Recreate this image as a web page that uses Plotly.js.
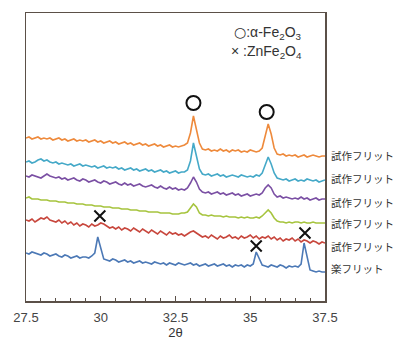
<!DOCTYPE html>
<html>
<head>
<meta charset="utf-8">
<script src="https://cdn.plot.ly/plotly-3.0.1.min.js"></script>
<style>html,body{margin:0;padding:0;background:#fff}#chart{width:393px;height:340px}</style>
</head>
<body>
<div id="chart"></div>
<script>
// 2θ grid (deg)
const twoTheta = [27.5,27.6,27.7,27.8,27.9,28.0,28.1,28.2,28.3,28.4,
 28.5,28.6,28.7,28.8,28.9,29.0,29.1,29.2,29.3,29.4,
 29.5,29.6,29.7,29.8,29.9,30.0,30.1,30.2,30.3,30.4,
 30.5,30.6,30.7,30.8,30.9,31.0,31.1,31.2,31.3,31.4,
 31.5,31.6,31.7,31.8,31.9,32.0,32.1,32.2,32.3,32.4,
 32.5,32.6,32.7,32.8,32.9,33.0,33.1,33.2,33.3,33.4,
 33.5,33.6,33.7,33.8,33.9,34.0,34.1,34.2,34.3,34.4,
 34.5,34.6,34.7,34.8,34.9,35.0,35.1,35.2,35.3,35.4,
 35.5,35.6,35.7,35.8,35.9,36.0,36.1,36.2,36.3,36.4,
 36.5,36.6,36.7,36.8,36.9,37.0,37.1,37.2,37.3,37.4,37.5];

// Intensity (a.u., stacked with offsets)
const trial1 = [163,164,162,163,164,162,163,162,163,161,
 162,163,161,162,160,161,162,160,161,160,
 161,159,160,161,159,160,158,159,160,158,
 159,157,158,159,157,158,156,157,158,156,
 157,155,156,157,155,156,154,155,156,154,
 155,154,155,156,158,168,185,171,158,152,
 151,152,150,151,150,152,150,151,149,151,
 150,151,149,150,149,151,150,149,150,153,
 165,177,167,153,147,146,147,145,146,145,
 146,144,145,146,144,145,146,145,144,145,145];
const trial2 = [139,140,138,139,141,142,140,141,139,138,
 139,137,138,137,136,137,135,136,137,135,
 136,135,134,135,133,134,135,133,134,133,
 134,132,133,131,132,133,131,132,130,131,
 132,130,131,129,130,131,129,130,128,129,
 130,128,129,129,131,140,158,145,132,127,
 126,127,125,126,127,125,126,124,125,126,
 125,124,126,125,124,125,124,126,125,128,
 136,144,137,128,123,122,121,122,120,121,
 122,120,121,120,122,121,120,121,119,120,121];
const trial3 = [125,124,126,125,124,123,125,127,125,124,
 123,124,122,123,121,122,123,121,120,122,
 121,119,120,121,119,118,120,119,117,118,
 119,117,116,118,116,117,115,116,117,115,
 114,115,116,114,113,115,113,112,114,112,
 113,111,112,111,113,118,124,119,112,109,
 108,109,107,108,109,107,108,106,107,108,
 106,107,105,106,107,105,106,107,106,108,
 113,116,113,107,104,105,103,104,103,102,
 103,102,104,102,103,101,102,103,101,102,102];
const trial4 = [103,104,102,102,102,101,101,101,100,100,
 100,99,99,99,98,98,98,97,97,97,
 96,96,96,95,95,95,94,94,94,93,
 93,93,92,92,92,91,91,91,90,90,
 90,89,89,89,89,88,88,88,88,87,
 87,87,88,88,89,93,97,94,88,86,
 86,85,86,85,85,85,84,85,84,84,
 84,83,84,83,84,83,83,84,83,85,
 88,91,88,83,80,79,79,78,79,78,
 79,79,78,79,78,78,79,78,78,78,78];
const trial5 = [81,80,82,79,81,83,82,84,81,80,
 79,81,78,80,77,79,76,78,75,77,
 76,74,77,75,76,78,77,75,73,74,
 72,74,71,73,72,70,73,71,69,72,
 70,68,71,69,67,70,68,66,69,67,
 68,66,67,65,67,69,70,68,66,64,
 65,63,66,64,62,65,63,64,66,63,
 64,62,65,63,64,66,63,65,62,64,
 63,65,62,64,61,63,60,62,61,63,
 60,62,59,61,60,58,60,59,57,59,58];
const raku = [48,47,49,48,47,46,48,47,45,46,
 47,45,44,46,45,43,44,45,43,44,
 44,43,45,48,64,52,42,41,40,42,
 41,39,40,41,39,40,38,39,40,38,
 39,38,37,39,38,37,38,36,38,37,
 36,38,37,36,37,38,36,37,35,36,
 37,35,36,37,35,36,37,35,36,34,
 36,35,36,34,36,35,37,49,42,36,
 35,34,36,35,34,36,35,33,35,34,
 35,34,37,58,44,31,30,29,30,29,29];

const seriesNames = ["試作フリット","試作フリット","試作フリット","試作フリット","試作フリット","楽フリット"];
const seriesColors = ["#ee8a3c","#45a9c8","#7b50a4","#a6c43e","#c8473d","#4c79b6"];
const seriesData = [trial1, trial2, trial3, trial4, trial5, raku];
const labelY = [146, 123, 99, 78, 55, 33];

// phase markers
const hematiteX = [33.1, 35.55];
const hematiteY = [198, 189];
const franklX = [29.97, 35.2, 36.83];
const franklY = [85, 55, 68];

const traces = seriesData.map((d, k) => ({
  x: twoTheta, y: d, type: 'scatter', mode: 'lines', name: seriesNames[k],
  line: {color: seriesColors[k], width: 1.6}, hoverinfo: 'skip'
}));
traces.push({x: hematiteX, y: hematiteY, type: 'scatter', mode: 'markers',
  marker: {symbol: 'circle-open', size: 14, color: '#111', line: {width: 2, color: '#111'}}});
traces.push({x: franklX, y: franklY, type: 'scatter', mode: 'markers',
  marker: {symbol: 'x-thin-open', size: 11, color: '#111', line: {width: 2, color: '#111'}}});

const ann = seriesNames.map((n, k) => ({
  x: 37.5, y: labelY[k], xref: 'x', yref: 'y', text: n, showarrow: false,
  xanchor: 'left', yanchor: 'middle', xshift: 4,
  font: {family: 'Noto Sans CJK JP', size: 10.5, color: '#333'}
}));
ann.push({x: 34.4, y: 268, xref: 'x', yref: 'y', text: '<span style="font-family:DejaVu Sans">○</span>:α-Fe<sub>2</sub>O<sub>3</sub>', showarrow: false,
  xanchor: 'left', yanchor: 'middle', font: {family: 'Liberation Sans', size: 14, color: '#333'}});
ann.push({x: 34.3, y: 249, xref: 'x', yref: 'y', text: '× :ZnFe<sub>2</sub>O<sub>4</sub>', showarrow: false,
  xanchor: 'left', yanchor: 'middle', font: {family: 'Liberation Sans', size: 14, color: '#333'}});

const layout = {
  width: 393, height: 340,
  margin: {l: 26, r: 68, t: 13, b: 39, pad: 0},
  paper_bgcolor: '#fff', plot_bgcolor: '#fff',
  showlegend: false,
  xaxis: {
    range: [27.5, 37.5], tickvals: [27.5, 30, 32.5, 35, 37.5], ticktext: ['27.5','30','32.5','35','37.5'],
    ticks: 'inside', ticklen: 5, tickwidth: 1, tickcolor: '#5b5048',
    minor: {dtick: 0.5, tick0: 27.5, ticks: 'inside', ticklen: 3, tickcolor: '#5b5048', showgrid: false},
    showline: true, linecolor: '#5b5048', linewidth: 1.5, mirror: true,
    showgrid: false, zeroline: false, ticklabelstandoff: 4,
    tickfont: {family: 'Liberation Sans', size: 13, color: '#444'},
    title: {text: '2θ', font: {family: 'Liberation Sans', size: 13, color: '#333'}, standoff: 13}
  },
  yaxis: {
    range: [0, 288], showticklabels: false, ticks: '',
    showline: true, linecolor: '#5b5048', linewidth: 1.5, mirror: true,
    showgrid: false, zeroline: false
  },
  annotations: ann
};
Plotly.newPlot('chart', traces, layout, {displayModeBar: false, staticPlot: true});
</script>
</body>
</html>
